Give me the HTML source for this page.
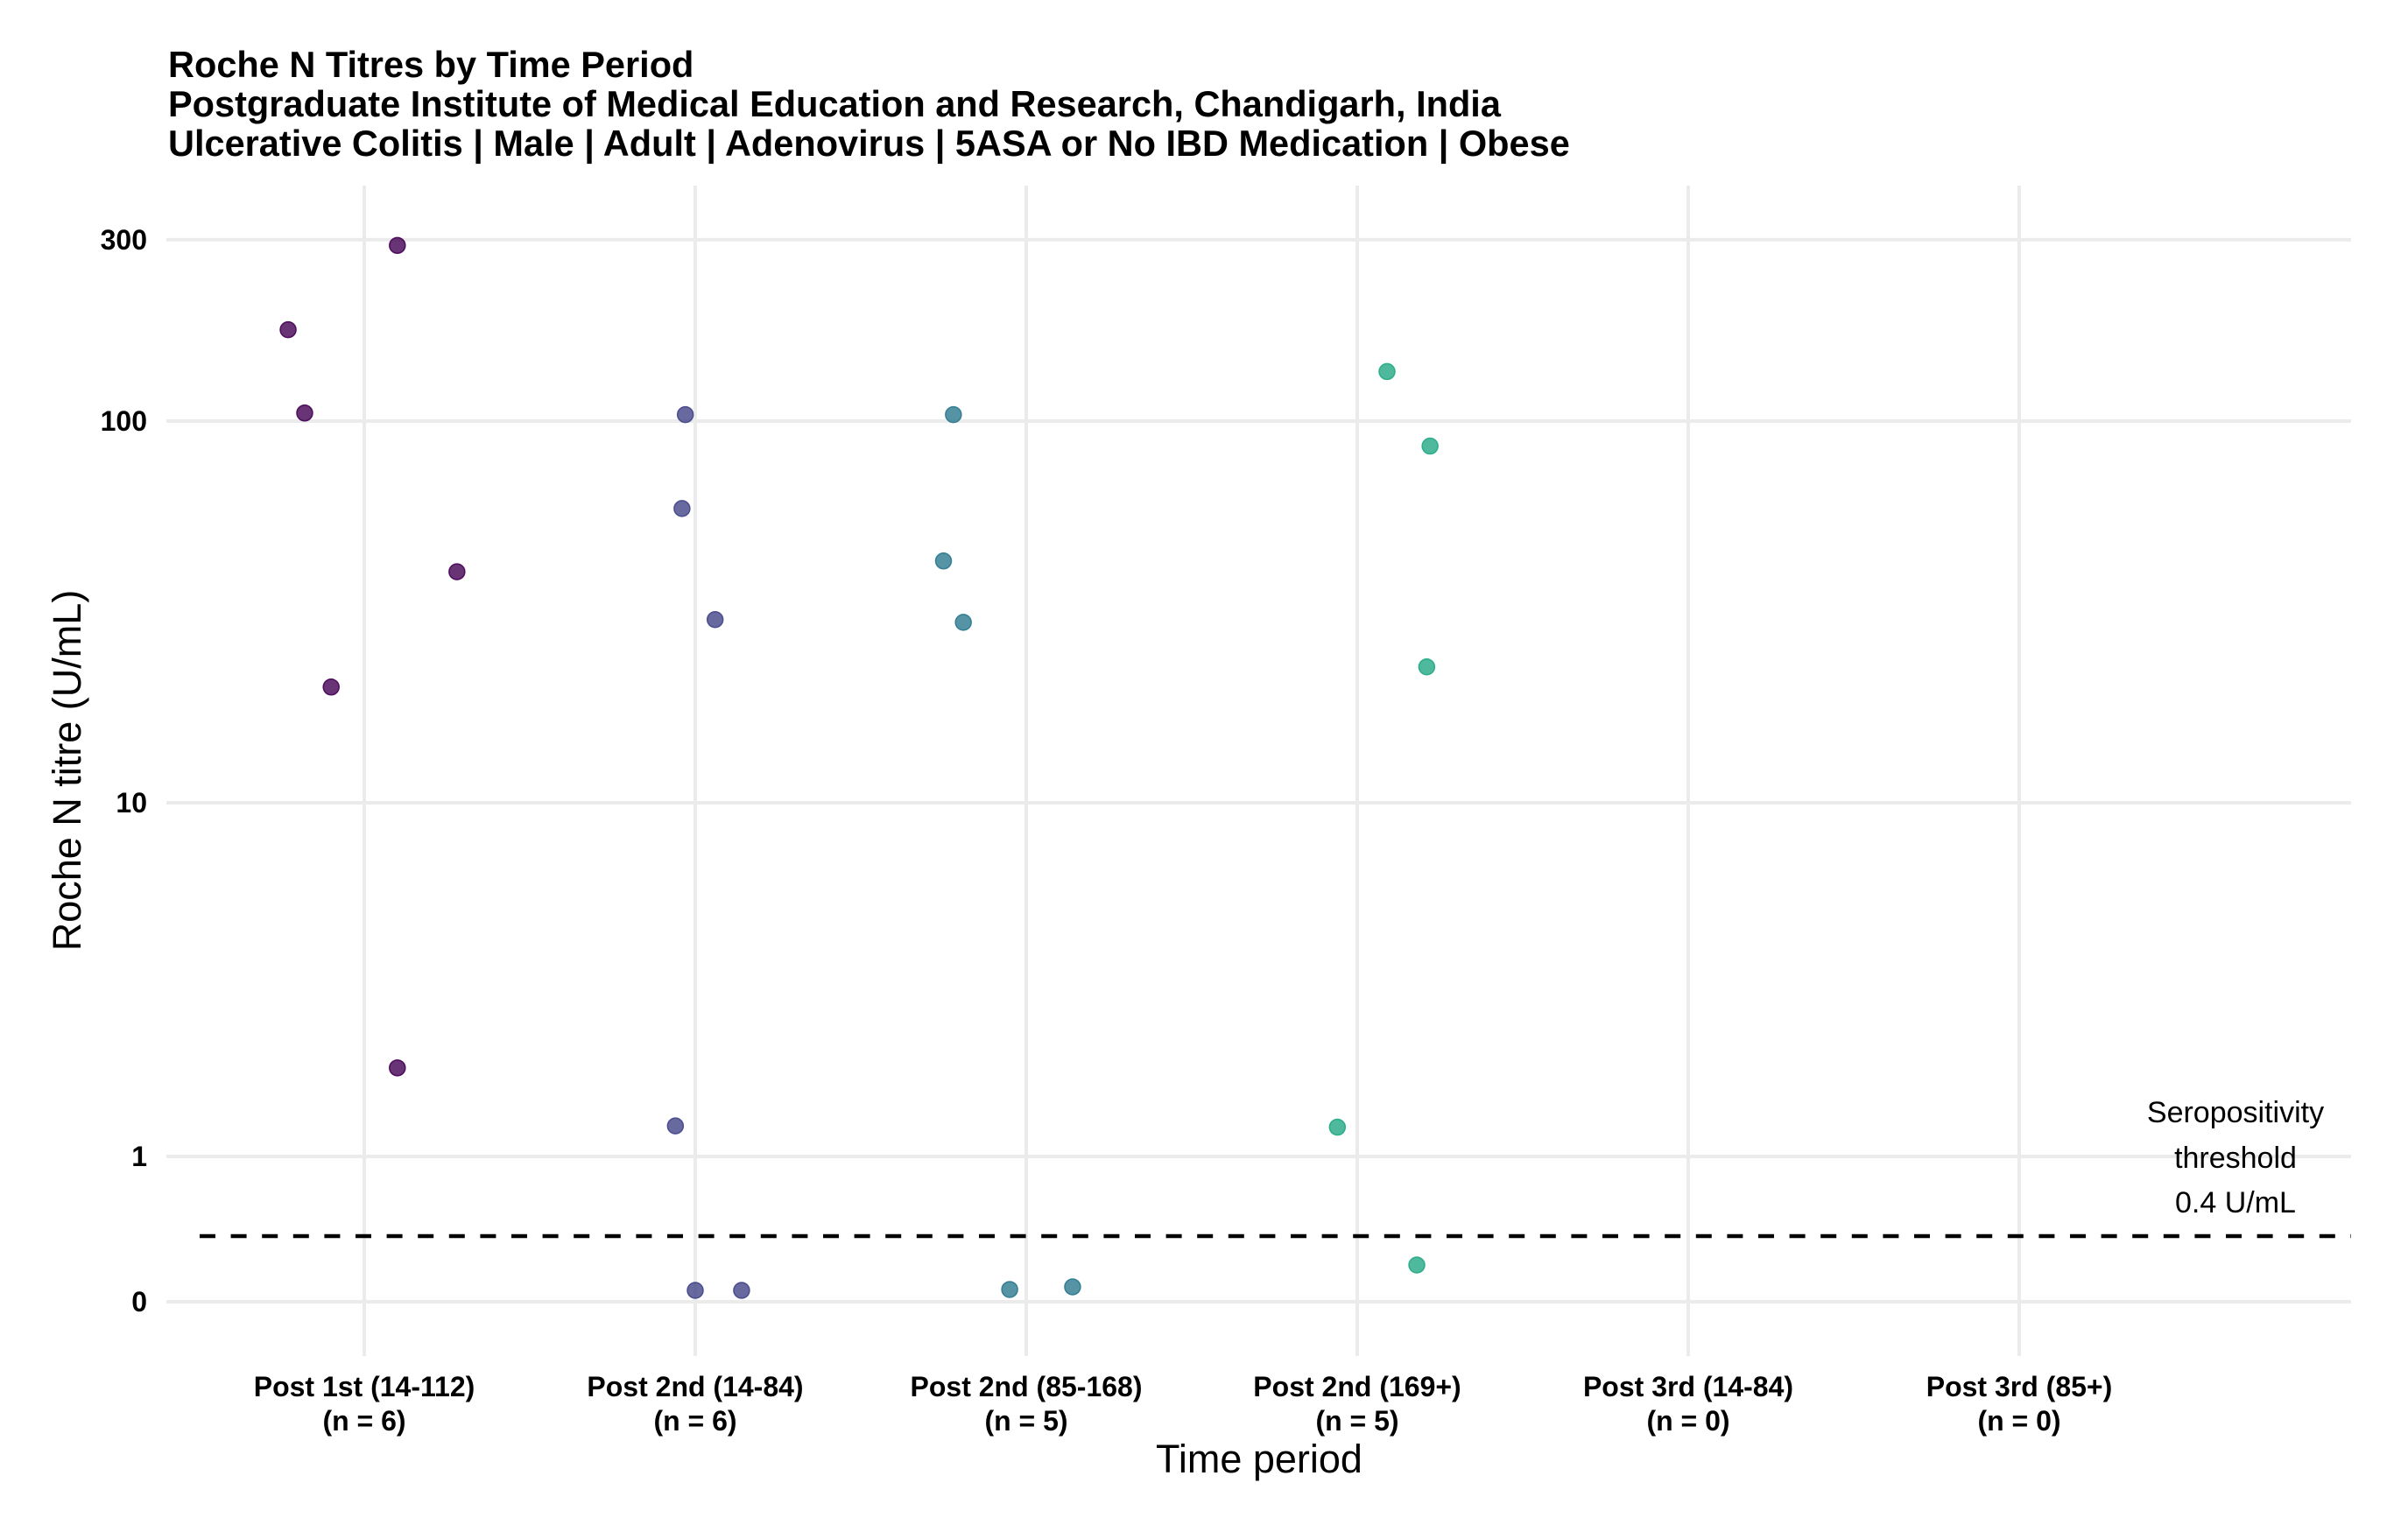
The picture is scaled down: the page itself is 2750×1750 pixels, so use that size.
<!DOCTYPE html>
<html><head><meta charset="utf-8"><style>
html,body{margin:0;padding:0;background:#fff;}
svg{display:block;font-family:"Liberation Sans",Arial,sans-serif;}
</style></head><body>
<svg id="chart" width="2750" height="1750" viewBox="0 0 2750 1750">
<g font-weight="bold" font-size="41.5" fill="#000">
<text x="192" y="88">Roche N Titres by Time Period</text>
<text x="192" y="133">Postgraduate Institute of Medical Education and Research, Chandigarh, India</text>
<text x="192" y="178">Ulcerative Colitis | Male | Adult | Adenovirus | 5ASA or No IBD Medication | Obese</text>
</g>
<g id="grid"></g>
<g id="yticks"></g>
<g id="xticks"></g>
<line id="threshold" stroke="#000" stroke-width="4.5" stroke-dasharray="18,17.6"/>
<g font-size="34" text-anchor="middle" fill="#000">
<text x="2553" y="1282">Seropositivity</text>
<text x="2553" y="1334">threshold</text>
<text x="2553" y="1385">0.4 U/mL</text>
</g>
<g id="points"></g>
<text x="1438" y="1682" font-size="45" text-anchor="middle">Time period</text>
<text transform="translate(92,880) rotate(-90)" font-size="45" text-anchor="middle">Roche N titre (U/mL)</text>
</svg>
<script>
const categories = ["Post 1st (14-112)","Post 2nd (14-84)","Post 2nd (85-168)","Post 2nd (169+)","Post 3rd (14-84)","Post 3rd (85+)"];
const counts = [6,6,5,5,0,0];
const yTickValues = [0,1,10,100,300];
const yTickLabels = ["0","1","10","100","300"];
const thresholdValue = 0.4;
const pointCategory = [0,0,0,0,0,0, 1,1,1,1,1,1, 2,2,2,2,2, 3,3,3,3,3];
const pointJitter = [0.1,-0.23,-0.18,0.28,-0.1,0.1, -0.03,-0.04,0.06,-0.06,0.0,0.14, -0.22,-0.25,-0.19,-0.05,0.14, 0.09,0.22,0.21,-0.06,0.18];
const pointValues = [290,174,105,40.3,20.1,1.78, 104,59,30.2,1.22,0.053,0.053, 104,43,29.7,0.058,0.072, 135,86,22.7,1.21,0.205];
const colors = ["#440154","#414487","#2A788E","#22A884"];

const NS="http://www.w3.org/2000/svg";
const plotL=190, plotR=2685, plotT=212, plotB=1549;
function xScale(i){return 416+i*378;}
function yScale(v){
  if(v<1) return 1487 - Math.pow(v,0.867)*166;
  const l=Math.log10(v);
  if(l<=1) return 1321 - l*404;
  if(l<=2) return 917 - (l-1)*436;
  return 481 - (l-2)*434;
}
function mk(tag,attrs,parent){const e=document.createElementNS(NS,tag);for(const k in attrs)e.setAttribute(k,attrs[k]);parent.appendChild(e);return e;}
const grid=document.getElementById('grid');
yTickValues.forEach((v,i)=>{
  const l=mk('line',{x1:plotL,x2:plotR,y1:yScale(v),y2:yScale(v),stroke:'#ebebeb','stroke-width':4},grid);
  
  
  const t=mk('text',{x:168,y:yScale(v)+11,'text-anchor':'end','font-size':32,'font-weight':'bold'},document.getElementById('yticks'));
  t.textContent=yTickLabels[i];
  
  
});
categories.forEach((c,i)=>{
  const l=mk('line',{x1:xScale(i),x2:xScale(i),y1:plotT,y2:plotB,stroke:'#ebebeb','stroke-width':4},grid);
  
  
  const g=document.getElementById('xticks');
  const t1=mk('text',{x:xScale(i),y:1595,'text-anchor':'middle','font-size':32,'font-weight':'bold'},g);
  t1.textContent=c;
  
  
  const t2=mk('text',{x:xScale(i),y:1634,'text-anchor':'middle','font-size':32,'font-weight':'bold'},g);
  t2.textContent='(n = '+counts[i]+')';
  
  
});
const th=document.getElementById('threshold');
th.setAttribute('x1',228);th.setAttribute('x2',plotR);
th.setAttribute('y1',yScale(thresholdValue));th.setAttribute('y2',yScale(thresholdValue));
const pg=document.getElementById('points');
pointValues.forEach((v,i)=>{
  const ci=pointCategory[i];
  const c=mk('circle',{cx:xScale(ci+pointJitter[i]),cy:yScale(v),r:9,fill:colors[ci],'fill-opacity':0.8,stroke:colors[ci],'stroke-opacity':0.9,'stroke-width':1.5},pg);
  
  
});
</script>
</body></html>
